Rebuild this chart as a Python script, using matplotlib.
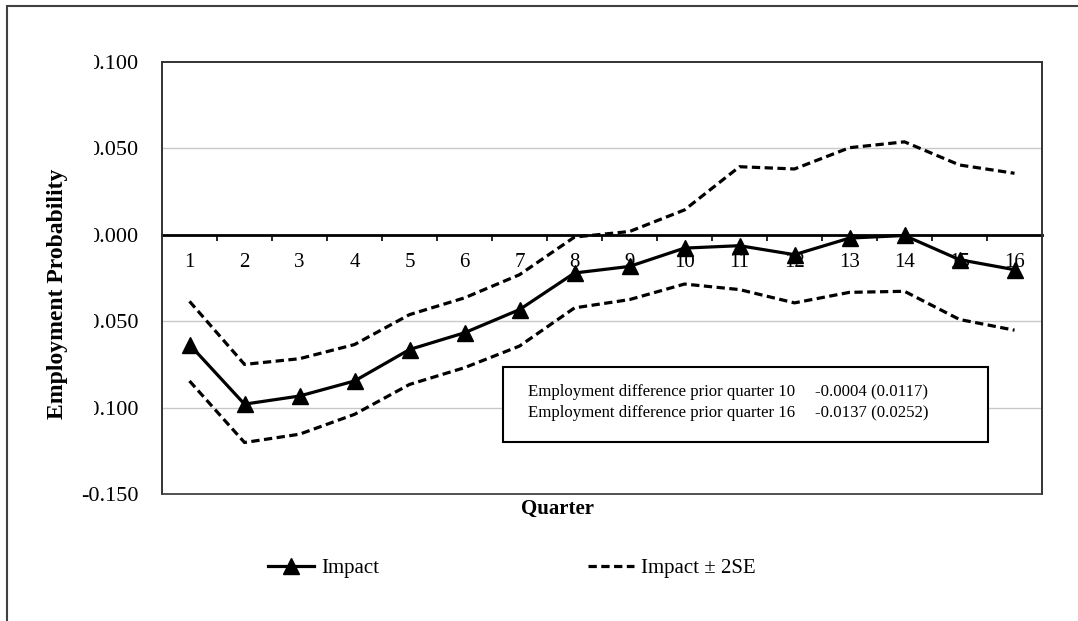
import matplotlib
matplotlib.use("Agg")
import matplotlib.pyplot as plt
from matplotlib.patches import Rectangle
from matplotlib.transforms import Bbox, TransformedBbox

plt.rcParams["font.family"] = ["Liberation Serif", "DejaVu Serif"]

# quarterly impact estimates and the +/- 2 SE band
quarters = list(range(1, 17))
impact = [-0.0635, -0.0980, -0.0933, -0.0846, -0.0664, -0.0567, -0.0433, -0.0221,
          -0.0183, -0.0077, -0.0063, -0.0115, -0.0019, -0.0004, -0.0144, -0.0202]
upper = [-0.0385, -0.0750, -0.0717, -0.0635, -0.0462, -0.0365, -0.0231, -0.0013,
         0.0019, 0.0144, 0.0394, 0.0381, 0.0504, 0.0538, 0.0404, 0.0356]
lower = [-0.0846, -0.1202, -0.1154, -0.1039, -0.0866, -0.0769, -0.0644, -0.0423,
         -0.0375, -0.0285, -0.0317, -0.0394, -0.0333, -0.0327, -0.0490, -0.0552]
yticks = [0.100, 0.050, 0.000, -0.050, -0.100, -0.150]
note_rows = [("Employment difference prior quarter 10", "-0.0004 (0.0117)"),
             ("Employment difference prior quarter 16", "-0.0137 (0.0252)")]

W, H = 1078, 621
fig = plt.figure(figsize=(W / 100, H / 100), dpi=100)
fig.patch.set_facecolor("white")


def fx(px):
    return px / W


def fy(py):
    return 1 - py / H


ax = fig.add_axes([fx(162), fy(494), fx(1042) - fx(162), fy(62) - fy(494)])
ax.set_xlim(0.5, 16.5)
ax.set_ylim(-0.15, 0.10)

for y in (0.05, -0.05, -0.10):
    ax.axhline(y, color="#c8c8c8", lw=1.0, zorder=1)

ax.plot(quarters, upper, color="black", lw=2.3, ls=(0, (2.6, 1.4)), zorder=3)
ax.plot(quarters, lower, color="black", lw=2.3, ls=(0, (2.6, 1.4)), zorder=3,
        label="Impact \u00b1 2SE")
ax.plot(quarters, impact, color="black", lw=2.3, marker="^", ms=11, zorder=4,
        label="Impact")

# category axis sits on the zero line
ax.spines["bottom"].set_position(("data", 0))
ax.spines["bottom"].set_linewidth(2.0)
ax.spines["bottom"].set_color("black")
for side in ("left", "right", "top"):
    ax.spines[side].set_color("#333333")
    ax.spines[side].set_linewidth(1.2)
ax.add_patch(Rectangle((0, 0), 1, 1, transform=ax.transAxes, fill=False,
                       ec="#333333", lw=1.2, zorder=5, clip_on=False))

ax.set_xticks(quarters)
ax.set_xticklabels([str(q) for q in quarters])
ax.set_xticks([q + 0.5 for q in quarters[:-1]], minor=True)
ax.tick_params(axis="x", which="major", length=0, pad=13, labelsize=15)
ax.tick_params(axis="x", which="minor", length=4, width=1.2, direction="out")

ax.set_yticks(yticks)
ax.set_yticklabels([f"{v:.3f}" for v in yticks])
ax.tick_params(axis="y", length=0, pad=17, labelsize=16)

# the upper labels are cut off on the left
clip = TransformedBbox(Bbox.from_extents(fx(94), 0.0, 1, 1), fig.transFigure)
for lab in ax.get_yticklabels()[:-1]:
    lab.set_clip_box(clip)
    lab.set_clip_on(True)

fig.text(fx(57), fy(294), "Employment Probability", rotation=90, ha="center",
         va="center", fontsize=17, fontweight="bold")
fig.text(fx(557), fy(509), "Quarter", ha="center", va="center", fontsize=15,
         fontweight="bold")

# summary box
fig.patches.append(Rectangle((fx(503), fy(442)), fx(988) - fx(503), fy(367) - fy(442),
                             transform=fig.transFigure, fill=True, fc="white",
                             ec="black", lw=1.5, zorder=6))
for i, (name, val) in enumerate(note_rows):
    yy = fy(392 + 21 * i)
    fig.text(fx(528), yy, name, ha="left", va="center", fontsize=12.1, zorder=7)
    fig.text(fx(815), yy, val, ha="left", va="center", fontsize=12.1, zorder=7)

# outer chart frame
fig.patches.append(Rectangle((fx(7), -0.1), 1.2, fy(6) + 0.1, transform=fig.transFigure,
                             fill=False, ec="#404040", lw=1.5))

handles, labels = ax.get_legend_handles_labels()
fig.legend(handles[::-1], labels[::-1], loc="center", bbox_to_anchor=(fx(512), fy(568)),
           ncol=2, frameon=False, fontsize=15, handlelength=2.2, handletextpad=0.35,
           columnspacing=10)

fig.savefig("out.png", dpi=100, facecolor="white")
